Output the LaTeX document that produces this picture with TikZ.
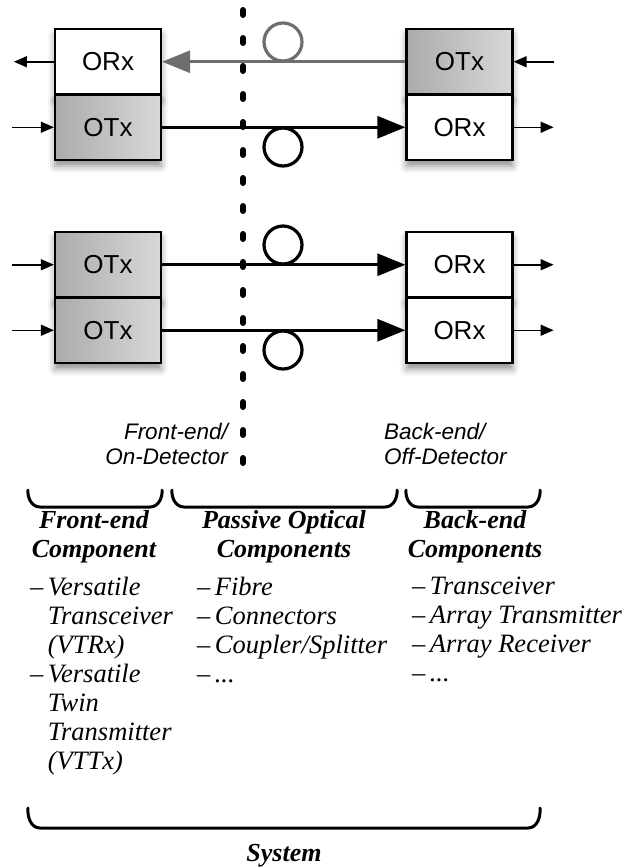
\documentclass[tikz,border=0pt]{standalone}
\usepackage{fontspec}
\setmainfont{Liberation Serif}
\newfontfamily\sansfont{Liberation Sans}
\usetikzlibrary{
  positioning,
  arrows.meta,
  shadows.blur
}
\definecolor{txGrayD}{HTML}{ABABAB}
\definecolor{txGrayL}{HTML}{D8D8D8}
\definecolor{fibreGray}{HTML}{6E6E6E}
\newcommand\itm{\textendash\,}
\newcommand\ind{\hphantom{\textendash\,}}

\begin{document}
\begin{tikzpicture}[
  x=1pt, y=-1pt,
  every node/.style={inner sep=0pt},
  module/.style={
    rectangle, draw=black, line width=2.2pt,
    minimum width=106pt, minimum height=65.5pt,
    font=\sansfont\fontsize{26}{30}\selectfont,
    blur shadow={shadow xshift=0pt, shadow yshift=-6pt,
      shadow blur radius=7pt, shadow opacity=45}
  },
  txmod/.style={module, left color=txGrayD, right color=txGrayL},
  rxmod/.style={module, fill=white},
  fibre/.style={line width=3pt, -{Triangle[length=28pt,width=22pt]}},
  signal/.style={line width=1.5pt, -{Triangle[length=13pt,width=11pt]}},
  coil/.style={circle, draw, line width=3.2pt, minimum size=38pt},
  cutline/.style={line width=6pt, line cap=round, dash pattern=on 5pt off 23pt},
  hook/.style={line width=3pt, line cap=round},
  endlabel/.style={font=\sansfont\itshape\fontsize{22.5}{25}\selectfont},
  colhead/.style={font=\bfseries\itshape\fontsize{26}{29}\selectfont, align=center},
  items/.style={font=\itshape\fontsize{26.5}{29}\selectfont, align=left, anchor=north west}
]
 \useasboundingbox (0,0) rectangle (629,868);

 % Bidirectional link
 \node[rxmod] (orxA) at (108,61.75) {ORx};
 \node[txmod] (otxA) at (108,127.25) {OTx};
 \node[txmod] (otxB) at (459.5,61.75) {OTx};
 \node[rxmod] (orxB) at (459.5,127.25) {ORx};

 \node[coil, draw=fibreGray] (coilA) at (283,42) {};
 \node[coil] (coilB) at (283,147) {};

 \draw[fibre, fibreGray] (otxB.west) -- (orxA.east);
 \draw[fibre] (otxA.east) -- (orxB.west);

 \coordinate[left=40pt of orxA.west] (outA);
 \coordinate[left=42pt of otxA.west] (inA);
 \coordinate[right=40pt of otxB.east] (inB);
 \coordinate[right=40pt of orxB.east] (outB);
 \draw[signal] (orxA.west) -- (outA);
 \draw[signal] (inA) -- (otxA.west);
 \draw[signal] (inB) -- (otxB.east);
 \draw[signal] (orxB.east) -- (outB);

 % Twin transmitter link
 \node[txmod] (otxC) at (108,264.75) {OTx};
 \node[txmod] (otxD) at (108,330.25) {OTx};
 \node[rxmod] (orxC) at (459.5,264.75) {ORx};
 \node[rxmod] (orxD) at (459.5,330.25) {ORx};

 \node[coil] (coilC) at (283,245) {};
 \node[coil] (coilD) at (283,350) {};

 \draw[fibre] (otxC.east) -- (orxC.west);
 \draw[fibre] (otxD.east) -- (orxD.west);

 \coordinate[left=42pt of otxC.west] (inC);
 \coordinate[left=42pt of otxD.west] (inD);
 \coordinate[right=40pt of orxC.east] (outC);
 \coordinate[right=40pt of orxD.east] (outD);
 \draw[signal] (inC) -- (otxC.west);
 \draw[signal] (inD) -- (otxD.west);
 \draw[signal] (orxC.east) -- (outC);
 \draw[signal] (orxD.east) -- (outD);

 % Detector boundary
 \coordinate (cutTop) at (243,10);
 \coordinate (cutBot) at (243,466);
 \draw[cutline] (cutTop) -- (cutBot);

 \node[endlabel, anchor=east, align=right] (feLabel) at (228,444)
  {Front-end/\\On-Detector};
 \node[endlabel, anchor=west, align=left] (beLabel) at (384,444)
  {Back-end/\\Off-Detector};

 % Component groups
 \draw[hook] (28,490) to[out=-95,in=180] (40,507) -- (150,507)
  to[out=0,in=-85] (162,490);
 \draw[hook] (172,490) to[out=-95,in=180] (184,507) -- (385,507)
  to[out=0,in=-85] (397,490);
 \draw[hook] (406,490) to[out=-95,in=180] (418,507) -- (528,507)
  to[out=0,in=-85] (540,490);

 \node[colhead] (hFront) at (94,537) {Front-end\\Component};
 \node[colhead] (hPassive) at (284,537) {Passive Optical\\Components};
 \node[colhead] (hBack) at (475,537) {Back-end\\Components};

 \node[items] (lFront) at (30,577)
  {\itm Versatile\\\ind Transceiver\\\ind (VTRx)\\\itm Versatile\\\ind Twin\\\ind Transmitter\\\ind (VTTx)};
 \node[items] (lPassive) at (197,577)
  {\itm Fibre\\\itm Connectors\\\itm Coupler/Splitter\\\itm ...};
 \node[items] (lBack) at (412,577)
  {\itm Transceiver\\\itm Array Transmitter\\\itm Array Receiver\\\itm ...};

 % Whole system
 \draw[hook] (28,808) to[out=-95,in=180] (40,828) -- (528,828)
  to[out=0,in=-85] (540,808);
 \node[colhead] (sysLabel) at (284,856) {System};
\end{tikzpicture}
\end{document}
